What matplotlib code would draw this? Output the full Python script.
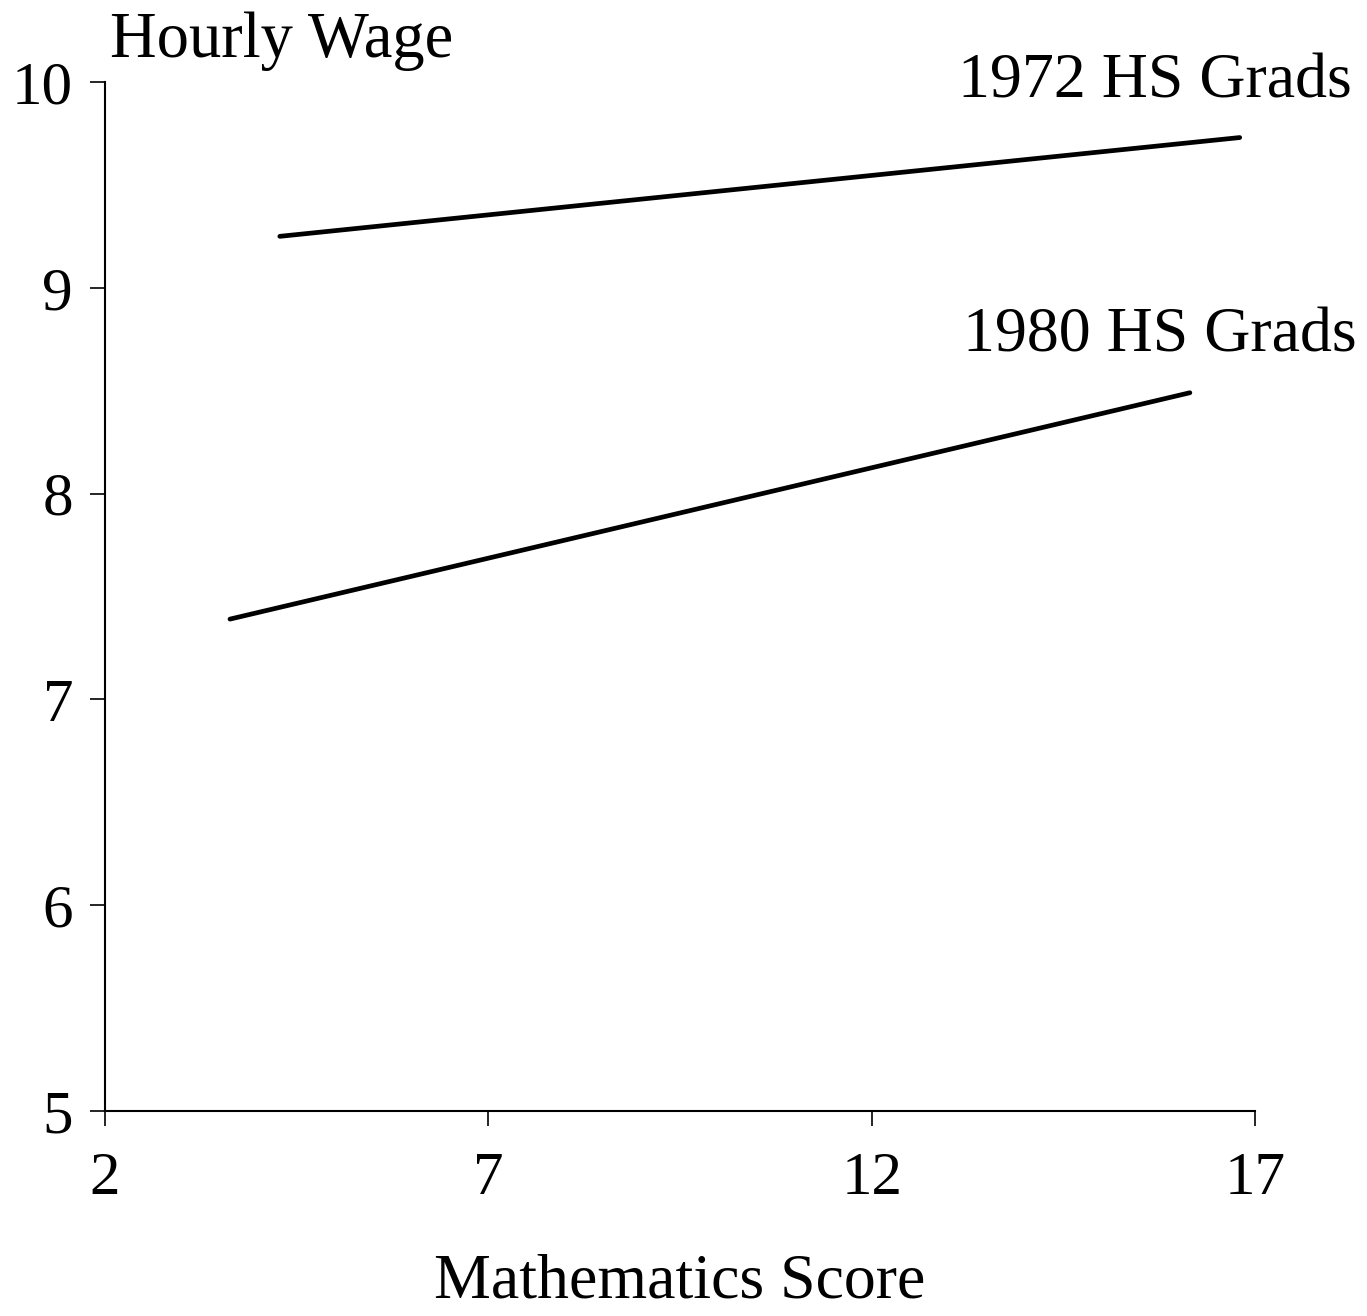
import matplotlib
matplotlib.use("Agg")
import matplotlib.pyplot as plt

# wage lines (math score, hourly wage)
score_1972 = [4.28, 16.8]
wage_1972 = [9.25, 9.73]
score_1980 = [3.63, 16.15]
wage_1980 = [7.39, 8.49]

x_ticks = [2, 7, 12, 17]
y_ticks = [5, 6, 7, 8, 9, 10]

plt.rcParams['font.family'] = ['Liberation Serif', 'DejaVu Serif']

fig = plt.figure(figsize=(13.67, 13.16), dpi=100)
ax = fig.add_axes([0.0768, 0.1558, 0.8413, 0.7819])

ax.plot(score_1972, wage_1972, color='black', lw=3.4, solid_capstyle='round')
ax.plot(score_1980, wage_1980, color='black', lw=3.4, solid_capstyle='round')

ax.set_xlim(2, 17)
ax.set_ylim(5, 10)
ax.set_xticks(x_ticks)
ax.set_yticks(y_ticks)
ax.spines['top'].set_visible(False)
ax.spines['right'].set_visible(False)
for s in ['left', 'bottom']:
    ax.spines[s].set_linewidth(1.5)
ax.tick_params(axis='both', direction='out', length=11, width=1.2, labelsize=44)
ax.tick_params(axis='y', pad=12)
ax.tick_params(axis='x', pad=18)

ax.text(18.26, 9.927, '1972 HS Grads', fontsize=46, ha='right', va='baseline', clip_on=False)
ax.text(18.33, 8.688, '1980 HS Grads', fontsize=46, ha='right', va='baseline', clip_on=False)

fig.text(0.0805, 0.9567, 'Hourly Wage', fontsize=46.5, ha='left', va='baseline')
fig.text(0.497, 0.0137, 'Mathematics Score', fontsize=46, ha='center', va='baseline')

fig.savefig('out.png', dpi=100)
